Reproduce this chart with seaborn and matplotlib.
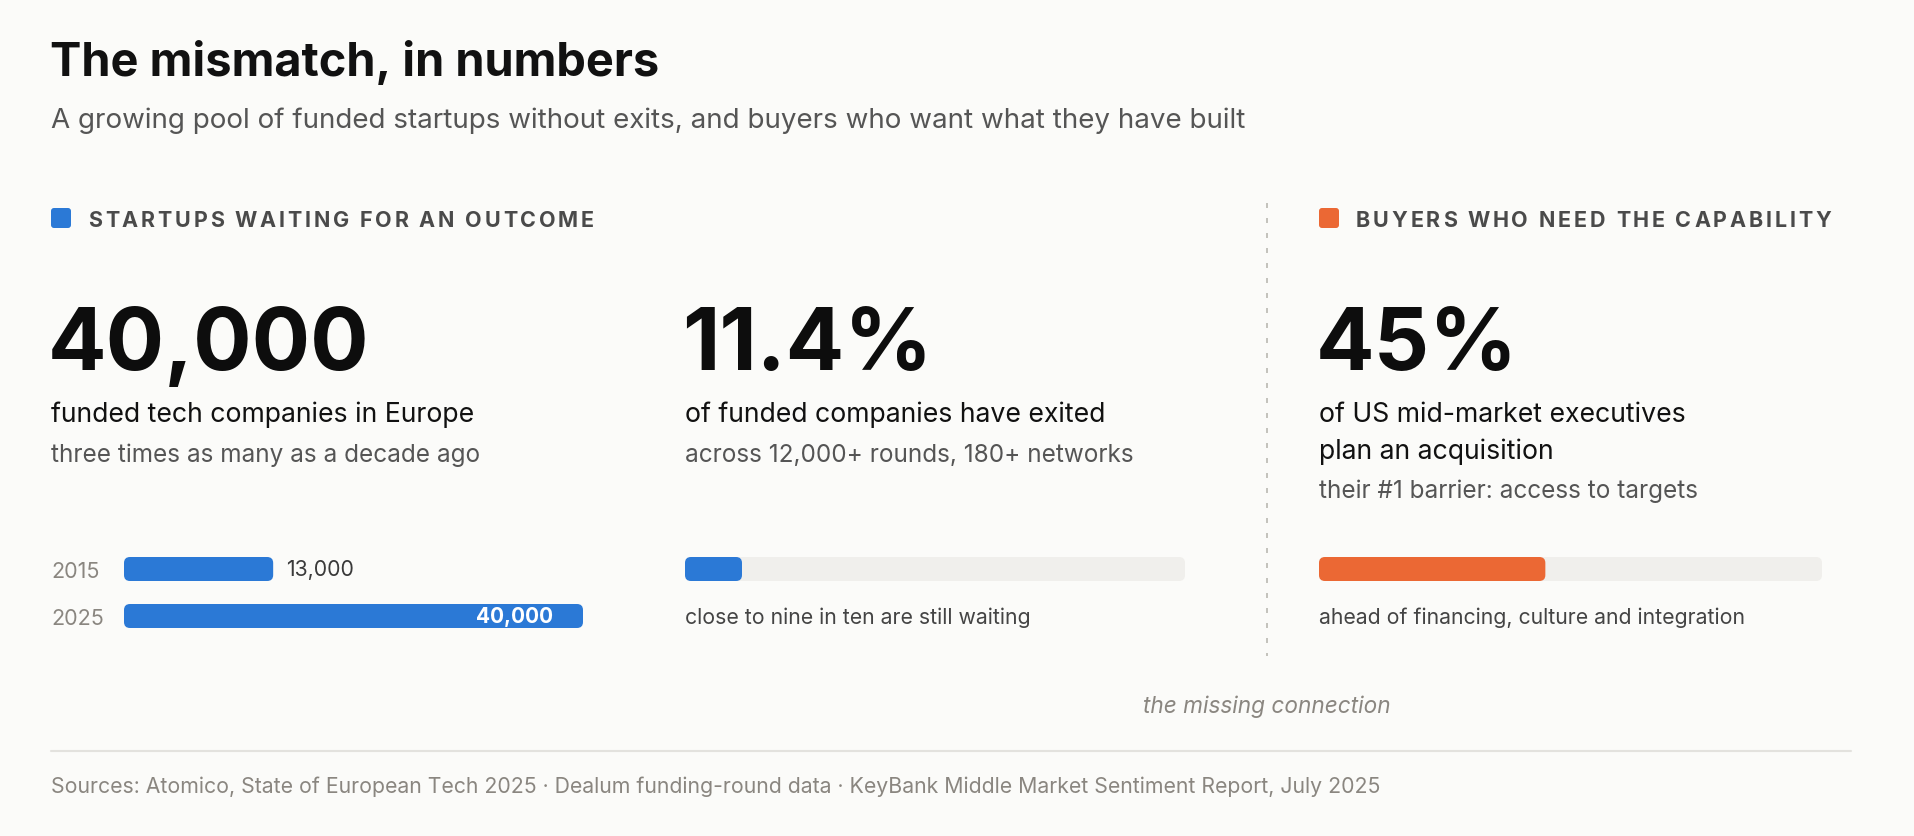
import matplotlib
matplotlib.use('Agg')
import matplotlib.pyplot as plt
import seaborn as sns
import pandas as pd
from matplotlib.patches import FancyBboxPatch

# ---- data ----
years = ['2015', '2025']
funded_companies = [13000, 40000]
exited_share = 11.4
planning_share = 45

title = 'The mismatch, in numbers'
subtitle = 'A growing pool of funded startups without exits, and buyers who want what they have built'
left_header = 'STARTUPS WAITING FOR AN OUTCOME'
right_header = 'BUYERS WHO NEED THE CAPABILITY'
big_numbers = ['40,000', '11.4%', '45%']
main_lines = [['funded tech companies in Europe'],
              ['of funded companies have exited'],
              ['of US mid-market executives', 'plan an acquisition']]
sub_lines = ['three times as many as a decade ago',
             'across 12,000+ rounds, 180+ networks',
             'their #1 barrier: access to targets']
bar_notes = ['close to nine in ten are still waiting',
             'ahead of financing, culture and integration']
bridge_note = 'the missing connection'
sources = ('Sources: Atomico, State of European Tech 2025 \u00b7 Dealum funding-round data \u00b7 '
           'KeyBank Middle Market Sentiment Report, July 2025')

BG = '#fbfbf9'
BLUE = '#2b79d6'
ORANGE = '#eb6834'
TRACK = '#f0efec'
INK = '#111111'
GREY = '#555555'
LIGHT = '#8a8680'

W, H = 1914, 837

sns.set_theme(style='white')
plt.rcParams['font.family'] = ['Inter', 'DejaVu Sans']

fig = plt.figure(figsize=(W / 100, H / 100), dpi=100, facecolor=BG)
base = fig.add_axes([0, 0, 1, 1])
base.set_xlim(0, W)
base.set_ylim(H, 0)
base.axis('off')
base.set_facecolor(BG)
renderer = fig.canvas.get_renderer()


def px_rect(x0, y0, x1, y1):
    return [x0 / W, 1 - y1 / H, (x1 - x0) / W, (y1 - y0) / H]


def tracked(x, y, s, spacing, **kw):
    # letter-spaced caps for the section headers
    for i, ch in enumerate(s):
        if ch == ' ':
            continue
        t = base.text(0, 0, s[:i + 1], **kw)
        w_full = t.get_window_extent(renderer).width
        t.remove()
        t = base.text(0, 0, ch, **kw)
        w_ch = t.get_window_extent(renderer).width
        t.remove()
        base.text(x + w_full - w_ch + i * spacing, y, ch, va='baseline', **kw)


def round_bars(ax, radius_px):
    x0, x1 = ax.get_xlim()
    y0, y1 = ax.get_ylim()
    bb = ax.get_position()
    xpp = abs(x1 - x0) / (bb.width * W)
    ypp = abs(y1 - y0) / (bb.height * H)
    for p in list(ax.patches):
        x, y = p.get_xy()
        w, h = p.get_width(), p.get_height()
        fc = p.get_facecolor()
        z = p.get_zorder()
        p.remove()
        ax.add_patch(FancyBboxPatch((x, y), w, h,
                                    boxstyle=f'round,pad=0,rounding_size={radius_px * xpp}',
                                    mutation_aspect=ypp / xpp, fc=fc, ec='none', zorder=z))


def clean(ax):
    ax.set_facecolor('none')
    for s in ax.spines.values():
        s.set_visible(False)
    ax.set_xlabel('')
    ax.set_ylabel('')
    ax.set_xticks([])


# ---- titles ----
base.text(50, 76, title, fontsize=33.8, fontweight='bold', color=INK, va='baseline')
base.text(51, 128, subtitle, fontsize=20, color=GREY, va='baseline')

# ---- section headers ----
for x, col, txt in [(51, BLUE, left_header), (1319, ORANGE, right_header)]:
    base.add_patch(FancyBboxPatch((x, 209), 20, 20, boxstyle='round,pad=0,rounding_size=3',
                                  fc=col, ec='none'))
    tracked(x + 37, 227, txt, 2.8, fontsize=15.5, fontweight='bold', color='#4a4a4a')

base.plot([1267, 1267], [204, 657], color='#c4c3bd', lw=1.44, ls=(0, (2.5, 5)))

# ---- big numbers and captions ----
cols = [51, 685, 1319]
for x, num, mains, sub in zip(cols, big_numbers, main_lines, sub_lines):
    base.text(x - 3, 370, num, fontsize=62.5, fontweight='bold', color='#0d0d0d', va='baseline')
    for k, line in enumerate(mains):
        base.text(x, 422 + 37 * k, line, fontsize=19.2, color=INK, va='baseline')
    base.text(x, 462 + 36 * (len(mains) - 1), sub, fontsize=17.5, color=GREY, va='baseline')

# ---- growth bars ----
df_growth = pd.DataFrame({'year': years, 'companies': funded_companies})
ax1 = fig.add_axes(px_rect(124, 546.5, 583, 640.5))
sns.barplot(data=df_growth, x='companies', y='year', orient='h', color=BLUE,
            saturation=1, width=24 / 47, ax=ax1)
ax1.set_xlim(0, max(funded_companies))
ax1.set_ylim(1.5, -0.5)
clean(ax1)
ax1.tick_params(axis='y', length=0, pad=52.6, labelsize=15.5, labelcolor=LIGHT)
for lab in ax1.get_yticklabels():
    lab.set_ha('left')
xpp1 = max(funded_companies) / (583 - 124)
for i, v in enumerate(funded_companies):
    if v < 0.6 * max(funded_companies):
        ax1.text(v + 13 * xpp1, i, f'{v:,}', va='center', ha='left', fontsize=15.3, color='#3a3a3a')
    else:
        ax1.text(v - 30 * xpp1, i, f'{v:,}', va='center', ha='right', fontsize=15,
                 color='white', fontweight='bold')
round_bars(ax1, 6)

# ---- share bars ----
for (x0, x1), share, col in [((685, 1185), exited_share, BLUE), ((1319, 1822), planning_share, ORANGE)]:
    ax = fig.add_axes(px_rect(x0, 558, x1, 582))
    df_share = pd.DataFrame({'label': ['share', 'share'], 'value': [100, share], 'part': ['track', 'fill']})
    sns.barplot(data=df_share[df_share.part == 'track'], x='value', y='label', orient='h',
                color=TRACK, saturation=1, width=1, ax=ax)
    sns.barplot(data=df_share[df_share.part == 'fill'], x='value', y='label', orient='h',
                color=col, saturation=1, width=1, ax=ax)
    ax.set_xlim(0, 100)
    ax.set_ylim(0.5, -0.5)
    clean(ax)
    ax.set_yticks([])
    round_bars(ax, 6)

for x, note in zip(cols[1:], bar_notes):
    base.text(x, 618, note, fontsize=15.3, color='#444444', va='center')

# ---- footer ----
base.text(1267, 707, bridge_note, fontsize=16.3, fontstyle='italic', color=LIGHT, ha='center', va='center')
base.plot([51, 1851], [752, 752], color='#e3e2de', lw=1.5)
base.text(51, 787, sources, fontsize=15.3, color=LIGHT, va='center')

fig.savefig('out.png', dpi=100, facecolor=BG)
